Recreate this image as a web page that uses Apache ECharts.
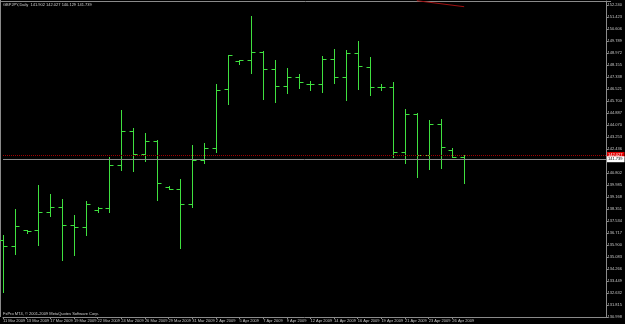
<!DOCTYPE html>
<html>
<head>
<meta charset="utf-8">
<script src="https://cdn.jsdelivr.net/npm/echarts@6/dist/echarts.min.js"></script>
<style>html,body{margin:0;padding:0;background:#000;}#c{width:625px;height:324px;}</style>
</head>
<body>
<div id="c"></div>
<script>
const dates = ["11 Mar 2009","12 Mar 2009","13 Mar 2009","16 Mar 2009","17 Mar 2009","18 Mar 2009","19 Mar 2009","20 Mar 2009","22 Mar 2009","23 Mar 2009","24 Mar 2009","25 Mar 2009","26 Mar 2009","27 Mar 2009","29 Mar 2009","30 Mar 2009","31 Mar 2009","1 Apr 2009","2 Apr 2009","3 Apr 2009","5 Apr 2009","6 Apr 2009","7 Apr 2009","8 Apr 2009","9 Apr 2009","10 Apr 2009","12 Apr 2009","13 Apr 2009","14 Apr 2009","15 Apr 2009","16 Apr 2009","17 Apr 2009","19 Apr 2009","20 Apr 2009","21 Apr 2009","22 Apr 2009","23 Apr 2009","24 Apr 2009","26 Apr 2009","27 Apr 2009"];
const opens  = [136.241,135.812,136.901,136.901,138.126,138.467,137.242,137.105,138.263,138.399,141.326,143.662,142.075,142.981,139.869,139.733,138.712,141.667,142.484,146.500,148.427,148.475,149.060,147.862,146.705,147.358,146.841,146.841,148.584,147.358,148.951,148.039,146.677,146.677,142.252,144.798,142.007,144.118,142.348,141.902];
const highs  = [136.581,138.351,136.942,139.985,139.352,139.032,137.943,138.916,138.467,141.871,145.091,143.866,143.525,143.049,139.917,140.394,142.708,142.824,146.861,148.836,148.495,151.491,149.128,148.495,147.951,147.542,147.066,148.788,149.224,149.176,149.789,148.720,146.861,147.018,145.139,144.867,144.410,144.478,142.484,142.027];
const lows   = [132.701,135.288,136.738,135.900,137.895,134.879,135.220,136.581,138.167,138.167,141.006,140.938,141.640,138.964,139.692,135.717,138.508,141.483,142.252,145.500,148.223,147.631,145.820,145.656,146.228,146.569,146.453,146.337,146.950,145.772,146.500,146.112,146.453,141.925,141.463,140.550,141.054,141.122,141.871,140.129];
const closes = [135.812,137.173,136.854,138.126,138.467,137.282,137.105,138.671,138.399,141.326,143.662,142.075,142.981,140.101,139.733,138.712,141.667,142.484,146.453,148.815,148.475,149.060,147.862,146.705,147.317,147.018,146.841,148.584,147.358,148.951,148.087,146.637,146.677,142.252,144.798,142.007,144.118,142.572,141.871,141.739];
const priceTicks = [130.998,131.815,132.632,133.449,134.266,135.083,135.900,136.717,137.534,138.351,139.168,139.985,140.802,141.619,142.436,143.253,144.070,144.887,145.704,146.521,147.338,148.155,148.972,149.789,150.606,151.423,152.240];
const bidPrice = 141.739;
const linePrice = 142.027;
const trendX = [34.85, 38.92];
const trendY = [152.532, 152.124];
const emptySlots = 12;
const symbolName = "GBPJPY,Daily";
const copyright = "FxPro MT4, \u00a9 2001-2009 MetaQuotes Software Corp.";

const cats = dates.concat(new Array(emptySlots).fill(''));
const ohlc = dates.map((d, i) => [i, opens[i], highs[i], lows[i], closes[i]]);
const last = dates.length - 1;
const titleText = symbolName + "  " + opens[last].toFixed(3) + " " + highs[last].toFixed(3) + " " + lows[last].toFixed(3) + " " + closes[last].toFixed(3);
const GREEN = '#3fe03f';
const FONT = 'Liberation Sans';
const showIdx = (i) => i % 2 === 0 && i < dates.length;

const chart = echarts.init(document.getElementById('c'), null, {renderer: 'canvas'});
chart.setOption({
  backgroundColor: '#000',
  animation: false,
  grid: {left: 1.7, right: 14, top: 1, bottom: 7, containLabel: false},
  xAxis: {
    type: 'category', data: cats, boundaryGap: false,
    axisLine: {show: true, lineStyle: {color: '#8a8a8a', width: 1}},
    axisTick: {show: true, length: 2, interval: (i) => showIdx(i), lineStyle: {color: '#8a8a8a'}},
    axisLabel: {interval: (i) => showIdx(i), align: 'left', fontSize: 4, fontFamily: FONT, color: '#c8c8c8', margin: 1.5},
    splitLine: {show: false}
  },
  yAxis: {
    type: 'value', position: 'right', min: 130.998, max: 152.512, scale: true,
    axisLine: {show: true, lineStyle: {color: '#8a8a8a', width: 1}},
    axisTick: {show: true, length: 2, inside: false, customValues: priceTicks, lineStyle: {color: '#8a8a8a'}},
    axisLabel: {customValues: priceTicks, formatter: (v) => v.toFixed(3), fontSize: 4, fontFamily: FONT, color: '#c8c8c8', margin: 1.5},
    splitLine: {show: false}
  },
  graphic: [
    {type: 'line', shape: {x1: 0.5, y1: 0, x2: 0.5, y2: 317}, style: {stroke: '#8a8a8a', lineWidth: 1}, silent: true},
    {type: 'line', shape: {x1: 0, y1: 1.5, x2: 611, y2: 1.5}, style: {stroke: '#8a8a8a', lineWidth: 1}, silent: true},
    {type: 'text', left: 3, top: 2.5, style: {text: titleText, fill: '#d0d0d0', font: '4px ' + FONT}, silent: true},
    {type: 'text', left: 3, top: 311.5, style: {text: copyright, fill: '#d0d0d0', font: '4px ' + FONT}, silent: true}
  ],
  series: [
    {
      type: 'custom',
      data: ohlc,
      encode: {x: 0, y: [1, 2, 3, 4]},
      renderItem: function (params, api) {
        const idx = api.value(0);
        const x = Math.round(api.coord([idx, api.value(1)])[0]) + 0.5;
        const yO = Math.round(api.coord([idx, api.value(1)])[1]) + 0.5;
        const yH = Math.round(api.coord([idx, api.value(2)])[1]);
        const yL = Math.round(api.coord([idx, api.value(3)])[1]) + 1;
        const yC = Math.round(api.coord([idx, api.value(4)])[1]) + 0.5;
        const st = {stroke: GREEN, lineWidth: 1};
        return {type: 'group', children: [
          {type: 'line', shape: {x1: x, y1: yH, x2: x, y2: yL}, style: st},
          {type: 'line', shape: {x1: x - 4, y1: yO, x2: x, y2: yO}, style: st},
          {type: 'line', shape: {x1: x, y1: yC, x2: x + 4, y2: yC}, style: st}
        ]};
      },
      z: 3
    },
    {
      type: 'line', data: [], symbol: 'none', silent: true,
      markLine: {
        silent: true, symbol: ['none', 'none'], animation: false,
        data: [
          {yAxis: linePrice, lineStyle: {color: '#a00000', type: 'dotted', width: 1},
           label: {show: true, position: 'end', distance: 1, formatter: () => linePrice.toFixed(3), color: '#ffffff', backgroundColor: '#e00000', fontSize: 4, fontFamily: FONT, padding: [1, 2, 1, 1]}},
          {yAxis: bidPrice, lineStyle: {color: '#8a8a8a', type: 'solid', width: 1},
           label: {show: true, position: 'end', distance: 1, formatter: () => bidPrice.toFixed(3), color: '#000000', backgroundColor: '#ffffff', fontSize: 4, fontFamily: FONT, padding: [1, 2, 1, 1]}}
        ]
      },
      z: 2
    },
    {
      type: 'line', data: trendX.map((x, i) => [x, trendY[i]]), symbol: 'none', clip: false, silent: true,
      lineStyle: {color: '#a01010', width: 1}, z: 2
    }
  ]
});
</script>
</body>
</html>
